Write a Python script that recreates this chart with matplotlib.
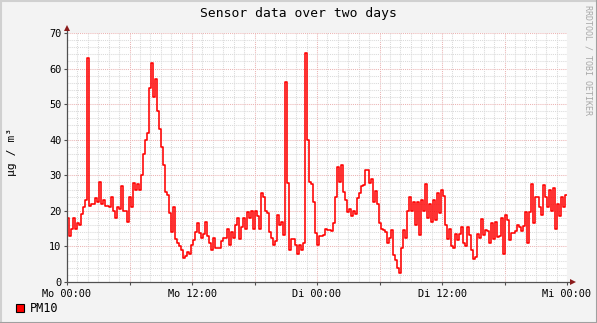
import numpy as np
import matplotlib
matplotlib.use("Agg")
import matplotlib.pyplot as plt
from matplotlib.lines import Line2D
from matplotlib.patches import Rectangle

# ---------------- data ----------------
title = "Sensor data over two days"
y_label = "µg / m³"
series_name = "PM10"
watermark = "RRDTOOL / TOBI OETIKER"
x_tick_labels = ["Mo 00:00", "Mo 12:00", "Di 00:00", "Di 12:00", "Mi 00:00"]
x_tick_hours = [0, 12, 24, 36, 48]
y_ticks = [0, 10, 20, 30, 40, 50, 60, 70]
total_hours = 48

pm10 = [
    18, 13, 15, 18, 15, 16.5, 16, 19, 21, 23,
    63, 21.5, 22, 22, 23.7, 22.6, 28, 22, 23, 21.5,
    21.5, 21, 24, 20, 18, 21, 20.5, 27, 20, 20,
    17, 24, 21, 27.7, 26, 27.5, 26, 30, 36, 40,
    42, 54.5, 61.5, 52, 57, 48, 43, 38, 33, 25.4,
    24.5, 19.5, 14, 21, 12, 11, 10, 9, 6.7, 7.2,
    8.5, 8, 10.4, 11.8, 14, 16.5, 13.7, 12.3, 13.5, 17,
    13, 11, 9, 12.5, 9.5, 9.5, 9.5, 11.5, 12.5, 12.5,
    15, 10.4, 14, 12.5, 16, 18, 12, 15.5, 18, 15,
    19.6, 18, 20, 15, 20, 18.5, 15, 25, 24, 20,
    19.5, 14, 12.3, 10.5, 11.5, 18.8, 16, 17, 13.2, 56.3,
    27.7, 9, 12, 12.2, 10.5, 8, 10.5, 9, 11, 64.3,
    40, 28, 27.5, 22.6, 13.7, 10.4, 13, 13, 13.3, 15,
    14.7, 14.7, 14.2, 16.7, 24, 32.4, 28, 33, 25.4, 23,
    19.8, 20.5, 18.5, 20, 19, 23.5, 25, 27, 27.2, 31.5,
    31.5, 27.7, 29, 22.6, 25.6, 22, 16.5, 15, 14.5, 14,
    11, 12.5, 14.6, 7.6, 6.2, 3.8, 2.6, 9.5, 14.6, 12.3,
    20, 24, 20, 22.6, 16, 22.6, 13.2, 23, 20, 27.5,
    18, 22, 17, 23, 17.5, 25, 19.5, 26, 24.2, 16,
    12, 15, 10, 9.5, 13.5, 11.8, 13.5, 15.5, 11, 10,
    15.5, 13.2, 9, 6.4, 7, 13.5, 12.5, 17.6, 13.2, 14.6,
    14.3, 11, 16.7, 12, 17, 12.7, 13, 18, 8, 18.8,
    17.4, 11.8, 13.7, 13.7, 14.2, 16, 15.5, 14.2, 15.8, 19.8,
    11, 19.8, 27.5, 16.7, 24, 24, 21.2, 18.8, 27.3, 24,
    21.2, 26, 20, 26.3, 15, 21.8, 18.5, 24, 21.2, 24.5,
]

# ---------------- figure ----------------
W, H = 597, 323
mono = "DejaVu Sans Mono"
plt.rcParams["font.family"] = [mono, "DejaVu Sans"]

fig = plt.figure(figsize=(W / 100, H / 100), dpi=100, facecolor="#F3F3F3")
left, right, top, bottom = 67, 567, 33, 282
ax = fig.add_axes([left / W, 1 - bottom / H, (right - left) / W, (bottom - top) / H])
ax.set_facecolor("white")
ax.set_xlim(0, total_hours)
ax.set_ylim(0, y_ticks[-1])
for s in ax.spines.values():
    s.set_visible(False)

minor_c = "#DADADA"
major_c = "#EBB4B4"
dots = (0, (1, 1))
for h in range(1, total_hours + 1):
    c = major_c if h % 6 == 0 else minor_c
    ax.axvline(h, color=c, lw=0.75, ls=dots, zorder=1)
for v in range(2, y_ticks[-1] + 1, 2):
    c = major_c if v % 10 == 0 else minor_c
    ax.axhline(v, color=c, lw=0.75, ls=dots, zorder=1)

n = len(pm10)
step = total_hours / n
xs = np.arange(n + 1) * step
vals = list(pm10) + [pm10[-1]]
ax.step(xs, vals, where="post", color="#FF0000", lw=1.15, zorder=3)

ax.set_xticks(x_tick_hours)
ax.set_xticklabels(x_tick_labels)
ax.set_xticks(list(range(0, total_hours + 1, 6)), minor=True)
ax.set_yticks(y_ticks)
ax.set_yticklabels([str(v) for v in y_ticks])
ax.tick_params(axis="both", which="both", direction="out", length=2, width=0.8,
               color="#505050", labelsize=7.4, pad=2, labelcolor="black")
ax.tick_params(axis="x", pad=3)

axis_c = "#505050"
arrow_c = "#8B1A1A"
ax.plot([0, 1.008], [0, 0], transform=ax.transAxes, color=axis_c, lw=0.9,
        clip_on=False, zorder=4, solid_capstyle="butt")
ax.plot([0, 0], [0, 1.016], transform=ax.transAxes, color=axis_c, lw=0.9,
        clip_on=False, zorder=4, solid_capstyle="butt")
ax.plot([1.012], [0], transform=ax.transAxes, marker=">", ms=4.5, color=arrow_c,
        clip_on=False, zorder=5, mew=0)
ax.plot([0], [1.02], transform=ax.transAxes, marker="^", ms=4.5, color=arrow_c,
        clip_on=False, zorder=5, mew=0)

fig.text(0.5, 1 - 13.5 / H, title, ha="center", va="center", fontsize=9.4,
         family=mono, color="black")
fig.text(12 / W, 1 - 152 / H, y_label, rotation=90, ha="center", va="center",
         fontsize=8.2, family=mono, color="black")
fig.text(588 / W, 1 - 60 / H, watermark, rotation=270, ha="center", va="center",
         fontsize=6.0, family=mono, color="#A8A8A8")

fig.add_artist(Rectangle((16 / W, 1 - 312 / H), 7.5 / W, 8 / H, transform=fig.transFigure,
                         facecolor="#FF0000", edgecolor="black", lw=0.8))
fig.text(30 / W, 1 - 308 / H, series_name, ha="left", va="center", fontsize=8.6,
         family=mono, color="black")

# 3D-ish frame
fig.add_artist(Line2D([0, 1], [1 - 0.5 / H] * 2, transform=fig.transFigure, color="#D0D0D0", lw=1.5))
fig.add_artist(Line2D([0.5 / W] * 2, [0, 1], transform=fig.transFigure, color="#D0D0D0", lw=1.5))
fig.add_artist(Line2D([0, 1], [0.5 / H] * 2, transform=fig.transFigure, color="#A0A0A0", lw=1.5))
fig.add_artist(Line2D([1 - 0.5 / W] * 2, [0, 1], transform=fig.transFigure, color="#A0A0A0", lw=1.5))

fig.savefig("out.png", dpi=100, facecolor=fig.get_facecolor())
